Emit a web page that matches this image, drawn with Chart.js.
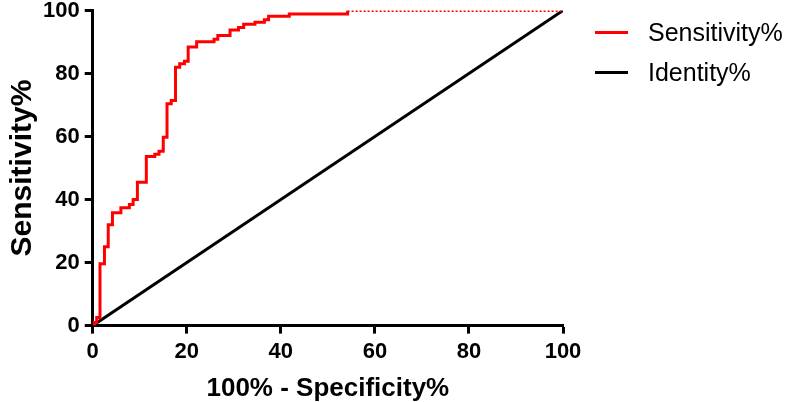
<!DOCTYPE html>
<html>
<head>
<meta charset="utf-8">
<script src="https://cdn.jsdelivr.net/npm/chart.js@4"></script>
<style>
  html, body { margin: 0; padding: 0; background: #fff; }
  #wrap { position: relative; width: 786px; height: 402px; }
  #legend {
    position: absolute; left: 595px; top: 14px;
    font-family: 'Liberation Sans', Arial, sans-serif; font-size: 25px; color: #000;
  }
  .item { display: flex; align-items: center; height: 36px; margin-bottom: 4px; }
  .swatch { width: 33px; height: 3px; margin-right: 20px; }
</style>
</head>
<body>
<div id="wrap">
  <canvas id="roc" width="786" height="402"></canvas>
  <div id="legend"></div>
</div>
<script>
// ROC curve: at each x the curve steps up to y
const specX = [0, 0.4, 0.85, 1.55, 2.5, 3.3, 4.2, 6.0, 7.8, 8.6, 9.5, 11.4, 13.2, 14.1, 15.0, 15.8, 16.7, 17.6, 18.5, 19.5, 20.3, 22.1, 25.8, 26.6, 29.2, 31.0, 32.1, 34.5, 36.5, 37.4, 41.8, 54.2, 100];
const sensY = [0, 1, 2.6, 19.6, 25.0, 32.0, 35.8, 37.4, 38.4, 40.0, 45.5, 53.7, 54.4, 55.3, 59.8, 70.4, 71.4, 82.0, 83.1, 83.9, 88.4, 90.1, 90.9, 92.1, 93.8, 94.6, 95.6, 96.3, 97.1, 98.2, 98.9, 100, 100];
const identX = [0, 100];
const identY = [0, 100];
const axisTicks = [0, 20, 40, 60, 80, 100];

const FONT = "'Liberation Sans', Arial, sans-serif";

function toPoints(xs, ys) {
    return xs.map((x, i) => ({ x: x, y: ys[i] }));
}

// Shared look for both axes
function axisOpts(title, titleFont, titlePad, tickLineHeight) {
    return {
        type: 'linear',
        min: 0,
        max: 100,
        afterBuildTicks: axis => { axis.ticks = axisTicks.map(v => ({ value: v })); },
        grid: {
            display: true,
            drawOnChartArea: false,
            drawTicks: true,
            tickLength: 8,
            tickWidth: 3,
            tickColor: '#000'
        },
        border: { display: true, color: '#000', width: 3 },
        ticks: {
            color: '#000',
            padding: 5,
            font: { family: FONT, size: 22, weight: 'bold', lineHeight: tickLineHeight }
        },
        title: {
            display: true,
            text: title,
            color: '#000',
            padding: titlePad,
            font: { family: FONT, size: titleFont, weight: 'bold', lineHeight: 1.0 }
        }
    };
}

// top line of the curve looks dotted in the original
const onTop = ctx => ctx.p0.parsed.y >= 100 && ctx.p1.parsed.y >= 100;

const chart = new Chart(document.getElementById('roc'), {
    type: 'line',
    data: {
        datasets: [
            {
                label: 'Sensitivity%',
                data: toPoints(specX, sensY),
                borderColor: '#ff0000',
                backgroundColor: '#ff0000',
                borderWidth: 3,
                pointRadius: 0,
                // run across first, then climb at the new x
                stepped: 'before',
                fill: false,
                segment: {
                    borderDash: ctx => onTop(ctx) ? [2, 2] : undefined
                }
            },
            {
                label: 'Identity%',
                data: toPoints(identX, identY),
                borderColor: '#000',
                backgroundColor: '#000',
                borderWidth: 3,
                pointRadius: 0,
                fill: false
            }
        ]
    },
    options: {
        responsive: false,
        animation: false,
        devicePixelRatio: 1,
        layout: { padding: { top: 0, right: 223, left: 0, bottom: 0 } },
        scales: {
            x: axisOpts('100% - Specificity%', 26, { top: 6, bottom: 0 }, 1.2),
            y: axisOpts('Sensitivity%', 30, { top: 8, bottom: 0 }, 0.5)
        },
        plugins: {
            tooltip: { enabled: false },
            legend: { display: false }
        }
    }
});

// legend as plain html, taken from the datasets
const legendBox = document.getElementById('legend');
chart.data.datasets.forEach(ds => {
    const row = document.createElement('div');
    row.className = 'item';
    row.innerHTML = `<span class="swatch" style="background:${ds.borderColor}"></span><span>${ds.label}</span>`;
    legendBox.appendChild(row);
});
</script>
</body>
</html>
